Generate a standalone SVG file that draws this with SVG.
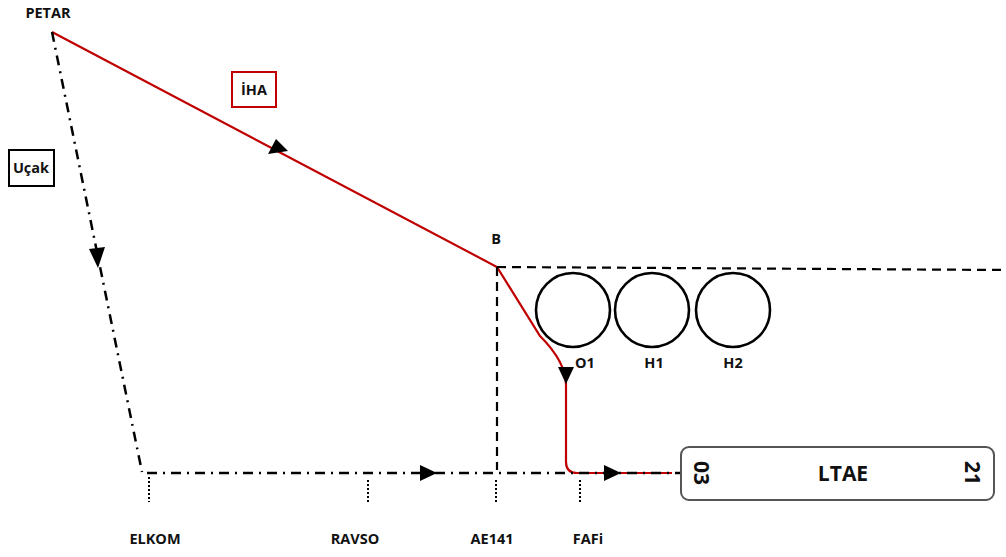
<svg xmlns="http://www.w3.org/2000/svg" width="1006" height="557" viewBox="0 0 1006 557">
  <style>
    text { font-family: "Open Sans", "Liberation Sans", sans-serif; font-weight: bold; fill: #111; }
    .lbl { font-size: 14.5px; text-anchor: middle; }
    .red { fill: none; stroke: #c00000; stroke-width: 2.2; }
    .dashdot { fill: none; stroke: #000; stroke-width: 2.5; stroke-dasharray: 10 6 2 6; }
    .dash { fill: none; stroke: #000; stroke-width: 2.2; stroke-dasharray: 9 6; }
    .dot { fill: none; stroke: #000; stroke-width: 2; stroke-dasharray: 2 2; }
    .hold { fill: none; stroke: #000; stroke-width: 2.6; }
    .head { fill: #000; }
  </style>

  <!-- connectors -->
  <g id="connectors">
    <!-- UAV route -->
    <path class="red" d="M52,32 L497,267 L540,336 Q566,362 566,385 L566,462 Q566,473 577,473 L672,473"/>
    <!-- aircraft route -->
    <path class="dashdot" d="M52,32 L142,472"/>
    <path class="dashdot" d="M147,473 L680,473"/>
    <!-- reference lines from B -->
    <path class="dash" d="M497,267 L1006,270"/>
    <path class="dash" d="M497,267 L497,470"/>
    <!-- fix ticks -->
    <path class="dot" d="M149,477 V502"/>
    <path class="dot" d="M368,480 V503"/>
    <path class="dot" d="M496,480 V503"/>
    <path class="dot" d="M580,480 V504"/>
    <!-- arrowheads -->
    <polygon class="head" points="288,151 268,154 276,139"/>
    <polygon class="head" points="98,268 89,249 105,247"/>
    <polygon class="head" points="437,473 420,465 420,481"/>
    <polygon class="head" points="566,384 558,367 574,367"/>
    <polygon class="head" points="621,473 604,465 604,481"/>
  </g>

  <g id="petar"><text class="lbl" x="48" y="18">PETAR</text></g>
  <g id="iha">
    <rect x="232" y="72" width="44" height="35" fill="#fff" stroke="#c00000" stroke-width="2"/>
    <text class="lbl" x="254" y="95">İHA</text>
  </g>
  <g id="ucak">
    <rect x="9" y="150" width="45" height="36" fill="#fff" stroke="#000" stroke-width="2"/>
    <text class="lbl" x="31" y="173">Uçak</text>
  </g>
  <g id="b"><text class="lbl" x="496" y="244">B</text></g>

  <g id="o1">
    <circle class="hold" cx="573" cy="310" r="37"/>
    <text class="lbl" x="585" y="368">O1</text>
  </g>
  <g id="h1">
    <circle class="hold" cx="652" cy="310" r="37"/>
    <text class="lbl" x="654" y="368">H1</text>
  </g>
  <g id="h2">
    <circle class="hold" cx="733" cy="310" r="37"/>
    <text class="lbl" x="733" y="368">H2</text>
  </g>

  <g id="elkom"><text class="lbl" x="155" y="544">ELKOM</text></g>
  <g id="ravso"><text class="lbl" x="355" y="544">RAVSO</text></g>
  <g id="ae141"><text class="lbl" x="492" y="544">AE141</text></g>
  <g id="fafi"><text class="lbl" x="588" y="544">FAFi</text></g>

  <g id="ltae">
    <rect x="681" y="447" width="313" height="53" rx="8" fill="#fff" stroke="#555" stroke-width="2"/>
    <text x="843" y="481" font-size="21" text-anchor="middle">LTAE</text>
    <text x="0" y="0" font-size="21" text-anchor="middle" transform="translate(694,473) rotate(90)">03</text>
    <text x="0" y="0" font-size="21" text-anchor="middle" transform="translate(965,473) rotate(90)">21</text>
  </g>
</svg>
